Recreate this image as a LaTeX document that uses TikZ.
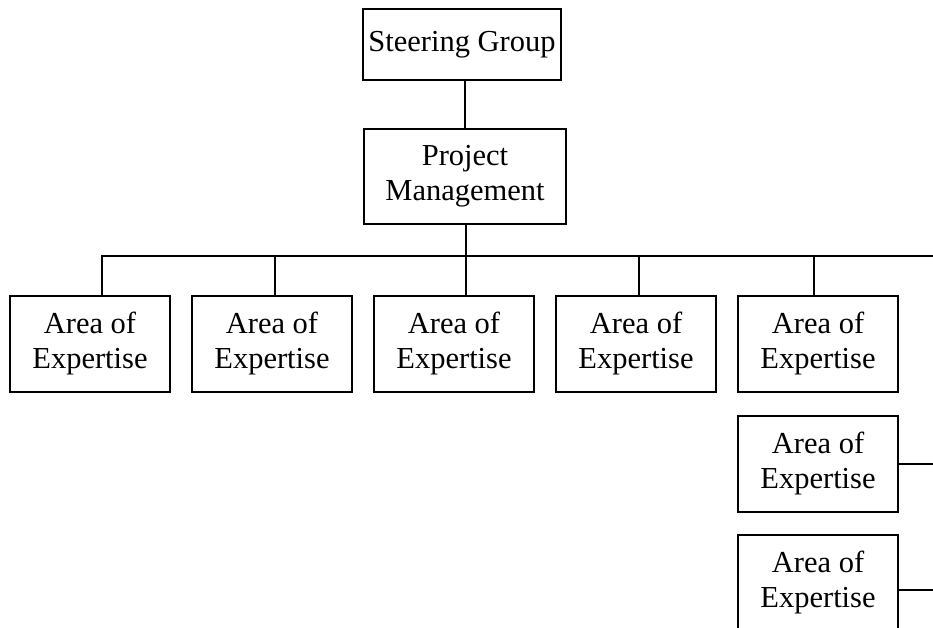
\documentclass[tikz,border=0pt]{standalone}
\usepackage{fontspec}
\setmainfont{Liberation Serif}
\usetikzlibrary{positioning}

\begin{document}
\begin{tikzpicture}[
    x=1pt, y=-1pt,
    node distance=22pt,
 box/.style = {
        draw, rectangle, align=center, line width=1.3pt,
        font=\fontsize{30.5}{35}\selectfont, inner sep=0pt, outer sep=0pt},
 area/.style = {
        box, minimum width=160pt, minimum height=96pt},
 link/.style = {line width=1.3pt}
                    ]
\useasboundingbox (0,0) rectangle (933,628);
% the top of the tree
\node (sg) [box, minimum width=198pt, minimum height=71pt] at (462,44.5) {Steering Group};
\node (pm) [box, minimum width=202pt, minimum height=95pt, below=49pt of sg, xshift=3pt]
    {Project\\Management};
% the row of areas
\node (a1) [area, anchor=north west] at (10,296) {Area of\\Expertise};
\node (a2) [area, right=of a1] {Area of\\Expertise};
\node (a3) [area, right=of a2] {Area of\\Expertise};
\node (a4) [area, right=of a3] {Area of\\Expertise};
\node (a5) [area, right=of a4] {Area of\\Expertise};
% the column on the right
\node (a6) [area, below=24pt of a5] {Area of\\Expertise};
\node (a7) [area, below=23pt of a6] {Area of\\Expertise};
% the bus and its ends
\coordinate (busl) at (102,256);
\coordinate (busr) at (933,256);
\coordinate (b2) at (275,256);
\coordinate (b3) at (466,256);
\coordinate (b4) at (639,256);
\coordinate (b5) at (814,256);
\coordinate (e6) at (933,464);
\coordinate (e7) at (933,590);
% lines
\draw[link] (sg.south -| pm.north) -- (pm.north);
\draw[link] (pm.south -| b3) -- (b3);
\draw[link] (busr) -- (busl) -- (busl |- a1.north);
\draw[link] (b2) -- (b2 |- a2.north);
\draw[link] (b3) -- (b3 |- a3.north);
\draw[link] (b4) -- (b4 |- a4.north);
\draw[link] (b5) -- (b5 |- a5.north);
\draw[link] (a6.east |- e6) -- (e6);
\draw[link] (a7.east |- e7) -- (e7);
\end{tikzpicture}
\end{document}
